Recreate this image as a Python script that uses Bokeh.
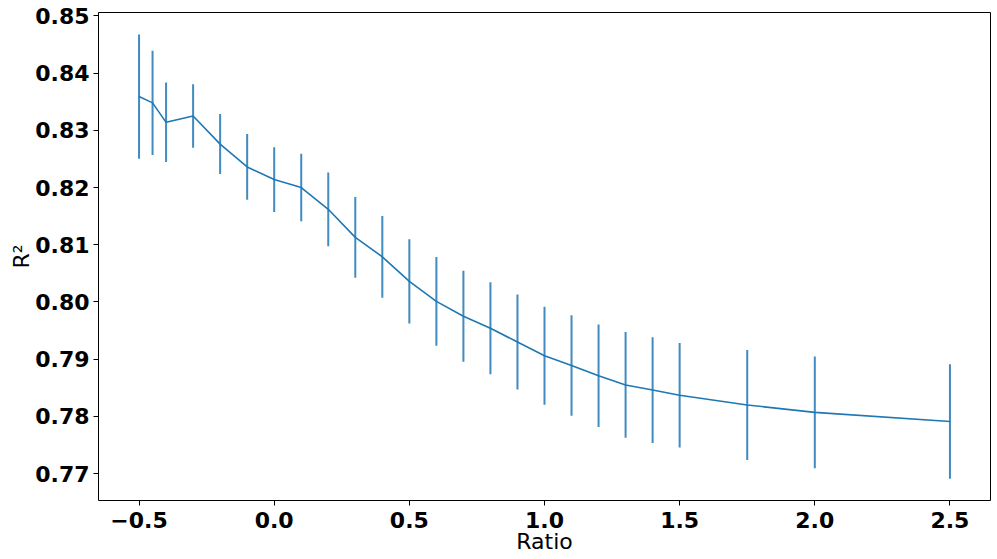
from bokeh.plotting import figure
from bokeh.models import ColumnDataSource, Range1d, FixedTicker, NumeralTickFormatter
from bokeh.embed import file_html
from bokeh.resources import INLINE

ratio = [-0.5, -0.45, -0.4, -0.3, -0.2, -0.1, 0.0, 0.1, 0.2, 0.3, 0.4, 0.5, 0.6,
         0.7, 0.8, 0.9, 1.0, 1.1, 1.2, 1.3, 1.4, 1.5, 1.75, 2.0, 2.5]
r2_mean = [0.8359, 0.8348, 0.8314, 0.8325, 0.8276, 0.8236, 0.8214, 0.8200, 0.8162,
           0.8113, 0.8079, 0.8036, 0.8001, 0.7975, 0.7954, 0.7930, 0.7906, 0.7889,
           0.7871, 0.7855, 0.7846, 0.7837, 0.7820, 0.7807, 0.7791]
r2_err = [0.01085, 0.0091, 0.00695, 0.00555, 0.00525, 0.00575, 0.00565, 0.0059,
          0.00645, 0.00705, 0.00715, 0.00735, 0.00775, 0.00795, 0.00805, 0.0083,
          0.00855, 0.0088, 0.00895, 0.00925, 0.00925, 0.00915, 0.0096, 0.00975, 0.0100]
x_ticks = [-0.5, 0.0, 0.5, 1.0, 1.5, 2.0, 2.5]
y_ticks = [0.77, 0.78, 0.79, 0.80, 0.81, 0.82, 0.83, 0.84, 0.85]

src = ColumnDataSource(dict(
    x=ratio, y=r2_mean,
    lo=[m - e for m, e in zip(r2_mean, r2_err)],
    hi=[m + e for m, e in zip(r2_mean, r2_err)],
))

p = figure(width=995, height=558, output_backend="svg", toolbar_location=None,
           x_range=Range1d(-0.65, 2.65), y_range=Range1d(0.7653, 0.8506),
           min_border_left=98, min_border_top=12, min_border_right=5, min_border_bottom=58)

C0 = "#1f77b4"
p.segment(x0="x", y0="lo", x1="x", y1="hi", source=src, line_color=C0, line_width=2, line_alpha=0.85)
p.line(x="x", y="y", source=src, line_color=C0, line_width=1.6)

p.xgrid.visible = False
p.ygrid.visible = False
p.outline_line_color = "black"
p.outline_line_width = 1
p.outline_line_alpha = 1

p.xaxis.ticker = FixedTicker(ticks=x_ticks)
p.yaxis.ticker = FixedTicker(ticks=y_ticks)
p.xaxis.formatter = NumeralTickFormatter(format="0.0")
p.yaxis.formatter = NumeralTickFormatter(format="0.00")
p.xaxis.major_label_overrides = {-0.5: "\u22120.5"}

for ax in (p.xaxis, p.yaxis):
    ax.major_tick_in = 0
    ax.major_tick_out = 5
    ax.minor_tick_line_color = None
    ax.axis_line_color = None
    ax.major_tick_line_color = "black"
    ax.major_label_text_font = "DejaVu Sans"
    ax.major_label_text_font_style = "bold"
    ax.major_label_text_font_size = "22px"
    ax.major_label_text_color = "black"
    ax.axis_label_text_font = "DejaVu Sans"
    ax.axis_label_text_font_style = "normal"
    ax.axis_label_text_font_size = "22px"
    ax.axis_label_text_color = "black"

p.xaxis.axis_label = "Ratio"
p.yaxis.axis_label = "R\u00b2"
p.xaxis.axis_label_standoff = -2
p.yaxis.axis_label_standoff = -2
p.xaxis.major_label_standoff = 6
p.yaxis.major_label_standoff = 4

open("out.html", "w").write(file_html(p, INLINE))
